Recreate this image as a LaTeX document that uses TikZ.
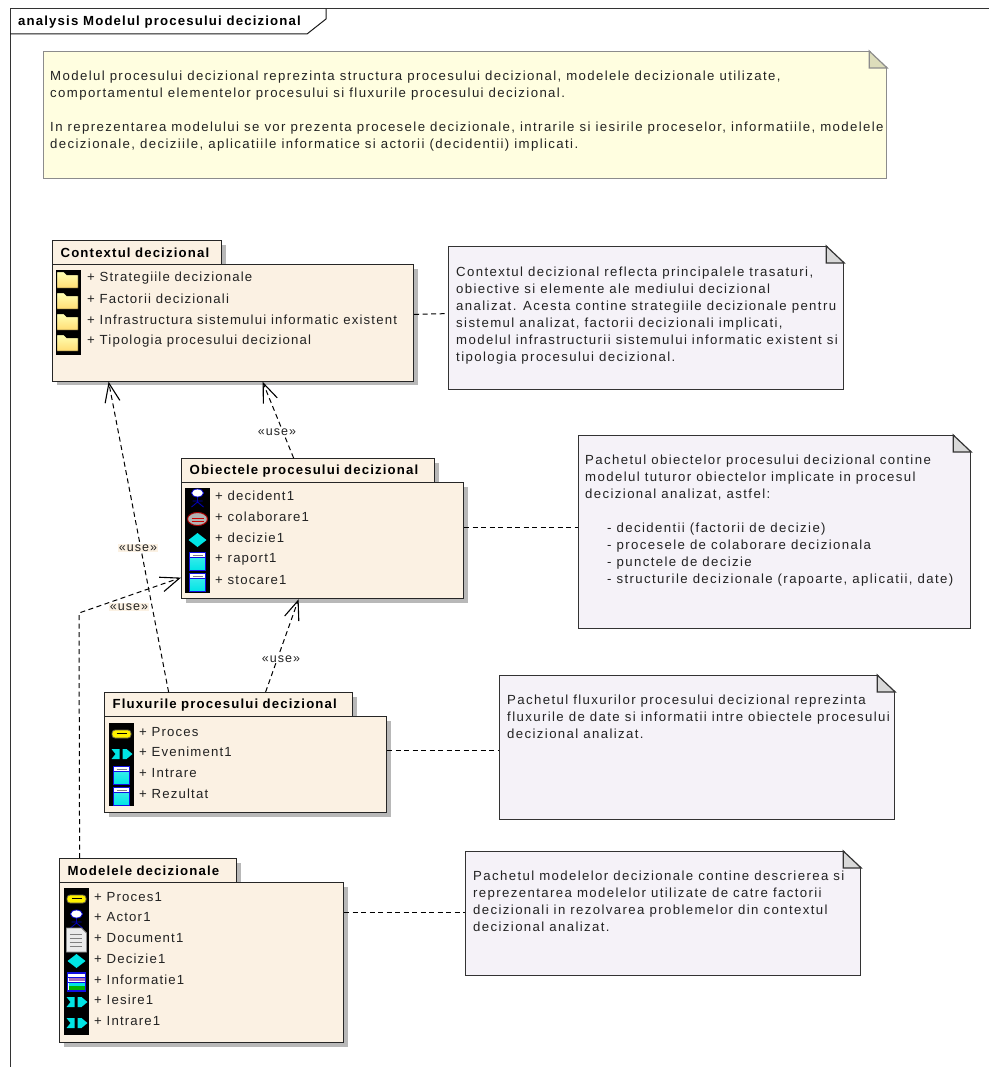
\documentclass[tikz,border=0pt]{standalone}
\usepackage{fontspec}
\setmainfont[LetterSpace=8.7]{Liberation Sans}
\usetikzlibrary{arrows.meta,shadows}
\definecolor{pkgfill}{HTML}{FBF1E3}
\definecolor{notefill}{HTML}{F5F2F8}
\definecolor{topfill}{HTML}{FFFEE0}
\definecolor{inktext}{HTML}{222222}
\definecolor{iconcyan}{HTML}{00E5E5}
\definecolor{iconblue}{HTML}{1010E0}
\definecolor{foldgrey}{HTML}{D8D8D8}
\definecolor{foldyellow}{HTML}{DDDDBB}
\tikzset{
  pkgbody/.style={draw=black!85,line width=1.2pt,fill=pkgfill,anchor=north west,inner sep=0pt,
    drop shadow={shadow xshift=4pt,shadow yshift=-4pt,fill=black!28,opacity=1}},
  pkgtab/.style={pkgbody,inner xsep=8pt,minimum height=24pt,font=\fontsize{13.2}{14}\selectfont\bfseries,align=left,text=black},
  pkgitem/.style={anchor=west,inner sep=0pt,font=\fontsize{13.2}{14}\selectfont,text=inktext},
  strip/.style={fill=black,anchor=north west,inner sep=0pt,minimum width=25pt},
  notebox/.style={draw=black!80,line width=1.2pt,fill=notefill,anchor=north west,inner sep=0pt},
  notetext/.style={anchor=north west,inner sep=0pt,align=left,text=inktext,font=\fontsize{13.2}{17}\selectfont\addfontfeature{LetterSpace=10.5}},
  usedep/.style={dash pattern=on 5pt off 3.5pt,line width=1pt,-{Straight Barb[length=19pt,width=15pt,line width=1.1pt]}},
  notelink/.style={dash pattern=on 5pt off 3.5pt,line width=1pt},
  uselabel/.style={inner sep=1pt,font=\fontsize{12.5}{14}\selectfont,text=inktext},
  pics/folder/.style={code={
    \draw[black,line width=.4pt,top color=yellow!30!white,bottom color=yellow!50!orange!55!white]
      (-11,-8) -- (-4,-8) -- (-1,-5) -- (10,-5) -- (10,8) -- (-11,8) -- cycle;}},
  pics/actor/.style={code={
    \draw[blue!70!black,line width=.9pt] (0,-1) -- (0,4) (-5,3) -- (5,3) (-6,9) -- (0,4) -- (6,9);
    \draw[blue!80!black,fill=white,line width=.8pt] (0,-5) ellipse (6 and 4);}},
  pics/process/.style={code={
    \draw[black!70!yellow,fill=yellow,rounded corners=3pt,line width=.8pt] (-9.5,-4) rectangle (9.5,4);
    \draw[black,line width=1pt] (-5,-1) -- (5,-1);}},
  pics/collab/.style={code={
    \draw[red!65!black,fill=black!30,line width=1pt] (0,0) ellipse (10 and 6.5);
    \draw[red!80!black,line width=.8pt] (-6,-1) -- (6,-1) (-6,2) -- (6,2);}},
  pics/decision/.style={code={
    \fill[iconcyan] (-9,0) -- (0,-7) -- (9,0) -- (0,7) -- cycle;}},
  pics/classbox/.style={code={
    \draw[iconblue,line width=1pt,top color=iconcyan!70,bottom color=iconcyan] (-8,-9) rectangle (8,9);
    \fill[white] (-7.5,-8.5) rectangle (7.5,-3.5);
    \draw[black!50,line width=.8pt] (-5,-6) -- (5,-6);
    \draw[iconblue,line width=.8pt] (-8,-3.5) -- (8,-3.5);}},
  pics/event/.style={code={
    \fill[iconcyan] (-10,-5) -- (-2,-5) -- (-2,5) -- (-10,5) -- (-6,0) -- cycle;
    \fill[iconcyan] (1,-5) -- (5,-5) -- (11,0) -- (5,5) -- (1,5) -- cycle;}},
  pics/document/.style={code={
    \draw[black!45,line width=.9pt,fill=black!8] (-10,-12) -- (5,-12) -- (10,-7) -- (10,12) -- (-10,12) -- cycle;
    \foreach \ly in {-6,-2,2,6}
      \draw[black!50,line width=.9pt] (-7,\ly) -- (5,\ly);}},
  pics/infobox/.style={code={
    \draw[iconblue,line width=1.2pt,fill=white] (-9,-9) rectangle (9,9);
    \fill[iconblue!60!red!60] (-8,-4) rectangle (8,-1);
    \fill[iconcyan] (-8,0) rectangle (8,4);
    \fill[green!70!black] (-8,4) rectangle (8,8);
    \draw[iconblue,line width=.8pt] (-9,-5) -- (9,-5) (-9,0) -- (9,0);}}
}
\newcommand{\notefold}[3]{
  \fill[white] ([shift={(-18,-1)}]#1.north east) -- ([shift={(1,-1)}]#1.north east) -- ([shift={(1,17)}]#1.north east) -- cycle;
  \filldraw[draw=#2,line width=1.2pt,fill=#3] ([xshift=-18pt]#1.north east) -- ([yshift=-17pt]#1.north east) -- ([shift={(-18,17)}]#1.north east) -- cycle;
}
\begin{document}
\begin{tikzpicture}[x=1pt,y=-1pt]
  \useasboundingbox (0,0) rectangle (989,1067);

  % frame
  \draw[black!80,line width=1pt] (10,1067) -- (10,9) -- (989,9);
  \draw[black!90,line width=1pt] (10,34) -- (307,34) -- (326,19) -- (326,9);
  \node[anchor=west,inner sep=0pt,font=\fontsize{13.2}{14}\selectfont\bfseries] (frametitle) at (18,22) {analysis Modelul procesului decizional};

  % top note
  \node[notebox,draw=black!45,fill=topfill,minimum width=843pt,minimum height=127pt] (topnote) at (43,51) {};
  \notefold{topnote}{black!45}{foldyellow}
  \node[notetext] (topnotetext) at (50,71) {Modelul procesului decizional reprezinta structura procesului decizional, modelele decizionale utilizate,\\
    comportamentul elementelor procesului si fluxurile procesului decizional.\\[17pt]
    In reprezentarea modelului se vor prezenta procesele decizionale, intrarile si iesirile proceselor, informatiile, modelele\\
    decizionale, deciziile, aplicatiile informatice si actorii (decidentii) implicati.};

  % packages
  \node[pkgtab,text width=153pt] (ctxtab) at (52,240) {Contextul decizional};
  \node[pkgbody,minimum width=361pt,minimum height=116.5pt] (ctx) at (52,264) {};
  \node[strip,minimum height=85pt] (ctxstrip) at (56,270) {};
  \foreach \i/\y/\txt/\ic in {1/278/Strategiile decizionale/folder,2/299/Factorii decizionali/folder,
      3/320/Infrastructura sistemului informatic existent/folder,4/341/Tipologia procesului decizional/folder} {
    \pic at (68,\y+2) {\ic};
    \node[pkgitem] (ctxitem\i) at (87,\y) {+ \txt};
  }

  \node[pkgtab,text width=237pt] (objtab) at (181,458) {Obiectele procesului decizional};
  \node[pkgbody,minimum width=282pt,minimum height=116pt] (obj) at (181,482) {};
  \node[strip,minimum height=105pt] (objstrip) at (185,488) {};
  \foreach \i/\y/\txt/\ic in {1/496/decident1/actor,2/517/colaborare1/collab,3/538/decizie1/decision,
      4/559/raport1/classbox,5/580/stocare1/classbox} {
    \pic at (197.5,\y+2) {\ic};
    \node[pkgitem] (objitem\i) at (215,\y) {+ \txt};
  }

  \node[pkgtab,text width=232pt] (fluxtab) at (104,692) {Fluxurile procesului decizional};
  \node[pkgbody,minimum width=282pt,minimum height=96pt] (flux) at (104,716) {};
  \node[strip,minimum height=83pt] (fluxstrip) at (109,723) {};
  \foreach \i/\y/\txt/\ic in {1/732/Proces/process,2/752/Eveniment1/event,3/773/Intrare/classbox,4/794/Rezultat/classbox} {
    \pic at (121.5,\y+2) {\ic};
    \node[pkgitem] (fluxitem\i) at (139,\y) {+ \txt};
  }

  \node[pkgtab,text width=161pt] (modtab) at (59,858) {Modelele decizionale};
  \node[pkgbody,minimum width=284pt,minimum height=160pt] (mod) at (59,882) {};
  \node[strip,minimum height=147pt] (modstrip) at (64,888) {};
  \foreach \i/\y/\txt/\ic in {1/897/Proces1/process,2/917/Actor1/actor,3/938/Document1/document,4/959/Decizie1/decision,
      5/980/Informatie1/infobox,6/1000/Iesire1/event,7/1021/Intrare1/event} {
    \pic at (76.5,\y+2) {\ic};
    \node[pkgitem] (moditem\i) at (94,\y) {+ \txt};
  }

  % notes
  \node[notebox,minimum width=395pt,minimum height=143pt] (ctxnote) at (448,246) {};
  \notefold{ctxnote}{black!80}{foldgrey}
  \node[notetext] (ctxnotetext) at (456,267) {Contextul decizional reflecta principalele trasaturi,\\
    obiective si elemente ale mediului decizional\\
    analizat. Acesta contine strategiile decizionale pentru\\
    sistemul analizat, factorii decizionali implicati,\\
    modelul infrastructurii sistemului informatic existent si\\
    tipologia procesului decizional.};

  \node[notebox,minimum width=392pt,minimum height=193pt] (objnote) at (578,435) {};
  \notefold{objnote}{black!80}{foldgrey}
  \node[notetext] (objnotetext) at (585,455) {Pachetul obiectelor procesului decizional contine\\
    modelul tuturor obiectelor implicate in procesul\\
    decizional analizat, astfel:\\[17pt]
    \hspace{22pt}- decidentii (factorii de decizie)\\
    \hspace{22pt}- procesele de colaborare decizionala\\
    \hspace{22pt}- punctele de decizie\\
    \hspace{22pt}- structurile decizionale (rapoarte, aplicatii, date)};

  \node[notebox,minimum width=395pt,minimum height=144pt] (fluxnote) at (499,675) {};
  \notefold{fluxnote}{black!80}{foldgrey}
  \node[notetext] (fluxnotetext) at (507,695) {Pachetul fluxurilor procesului decizional reprezinta\\
    fluxurile de date si informatii intre obiectele procesului\\
    decizional analizat.};

  \node[notebox,minimum width=395pt,minimum height=124pt] (modnote) at (465,851) {};
  \notefold{modnote}{black!80}{foldgrey}
  \node[notetext] (modnotetext) at (473,871) {Pachetul modelelor decizionale contine descrierea si\\
    reprezentarea modelelor utilizate de catre factorii\\
    decizionali in rezolvarea problemelor din contextul\\
    decizional analizat.};

  % connectors
  \coordinate (modbend) at (79,613);
  \foreach \from/\to/\fx/\tx in {objtab/ctx/-14.5/29.5,fluxtab/ctx/-60/-124.5,fluxtab/obj/37/-24}
    \draw[usedep] ([xshift=\fx pt]\from.north) -- ([xshift=\tx pt]\to.south);
  \draw[usedep] ([xshift=-68.5pt]modtab.north) -- (modbend) -- ([yshift=-37pt]obj.west);
  \foreach \from/\to/\fy/\ty in {ctx/ctxnote/8.5/4.5,obj/objnote/13/4.5,flux/fluxnote/14/-3,mod/modnote/50/1}
    \draw[notelink] ([yshift=\fy pt]\from.east) -- ([yshift=\ty pt]\to.west);

  \node[uselabel,fill=white] (use1) at (277,432) {«use»};
  \node[uselabel,fill=pkgfill] (use2) at (138,548) {«use»};
  \node[uselabel,fill=white] (use3) at (281,659) {«use»};
  \node[uselabel,fill=pkgfill] (use4) at (129,607) {«use»};
\end{tikzpicture}
\end{document}
